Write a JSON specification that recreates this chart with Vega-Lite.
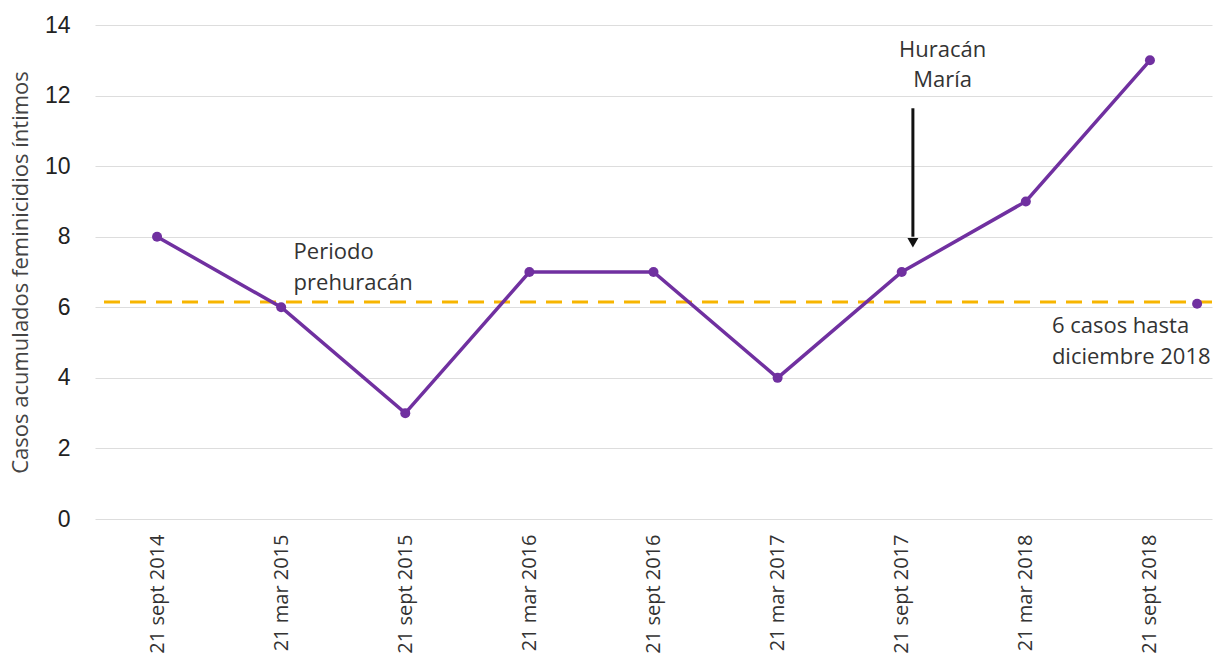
{
  "$schema": "https://vega.github.io/schema/vega-lite/v6.json",
  "autosize": "none",
  "width": 1117,
  "height": 494,
  "padding": {"left": 95, "top": 25, "right": 5, "bottom": 145},
  "background": "white",
  "config": {"view": {"stroke": null}},
  "datasets": {
    "series": [
      {"pos": 0, "fecha": "21 sept 2014", "casos": 8},
      {"pos": 1, "fecha": "21 mar 2015", "casos": 6},
      {"pos": 2, "fecha": "21 sept 2015", "casos": 3},
      {"pos": 3, "fecha": "21 mar 2016", "casos": 7},
      {"pos": 4, "fecha": "21 sept 2016", "casos": 7},
      {"pos": 5, "fecha": "21 mar 2017", "casos": 4},
      {"pos": 6, "fecha": "21 sept 2017", "casos": 7},
      {"pos": 7, "fecha": "21 mar 2018", "casos": 9},
      {"pos": 8, "fecha": "21 sept 2018", "casos": 13}
    ],
    "extra": [{"pos": 8.38, "casos": 6.1}],
    "ref": [{"y": 6.15}],
    "notes": [
      {"pos": 1.1, "casos": 7.56, "label": ["Periodo", "prehuracán"]},
      {"pos": 7.21, "casos": 5.48, "label": ["6 casos  hasta", "diciembre 2018"]}
    ],
    "notes2": [
      {"pos": 6.33, "casos": 13.29, "label": ["Huracán", "María"]}
    ],
    "arrow": [{"pos": 6.09, "y1": 11.64, "y2": 8.0}],
    "tip": [{"pos": 6.09, "casos": 7.83}]
  },
  "layer": [
    {
      "data": {"name": "ref"},
      "mark": {"type": "rule", "color": "#f7b500", "strokeWidth": 3, "strokeDash": [16, 10]},
      "encoding": {
        "y": {"field": "y", "type": "quantitative", "scale": {"domain": [0, 14]}}
      }
    },
    {
      "data": {"name": "series"},
      "mark": {"type": "line", "color": "#7030a0", "strokeWidth": 3.5, "point": {"filled": true, "size": 100, "color": "#7030a0"}},
      "encoding": {
        "x": {
          "field": "pos", "type": "quantitative",
          "scale": {"domain": [-0.5, 8.5], "nice": false, "zero": false},
          "axis": {
            "title": null, "values": [0, 1, 2, 3, 4, 5, 6, 7, 8],
            "labelExpr": "['21 sept 2014','21 mar 2015','21 sept 2015','21 mar 2016','21 sept 2016','21 mar 2017','21 sept 2017','21 mar 2018','21 sept 2018'][datum.value]",
            "labelAngle": -90, "labelAlign": "right", "labelBaseline": "middle",
            "labelFont": "Open Sans", "labelFontSize": 20, "labelColor": "#333333",
            "labelPadding": 15, "ticks": false, "domain": false, "grid": false
          }
        },
        "y": {
          "field": "casos", "type": "quantitative",
          "scale": {"domain": [0, 14], "nice": false},
          "axis": {
            "title": "Casos acumulados feminicidios íntimos",
            "titleFont": "Open Sans", "titleFontSize": 22, "titleFontWeight": "normal", "titleColor": "#444444",
            "titlePadding": 12,
            "values": [0, 2, 4, 6, 8, 10, 12, 14],
            "labelFont": "Liberation Sans", "labelFontSize": 23, "labelColor": "#222222",
            "labelPadding": 25, "ticks": false, "domain": false,
            "grid": true, "gridColor": "#dddddd", "gridWidth": 1
          }
        }
      }
    },
    {
      "data": {"name": "extra"},
      "mark": {"type": "point", "filled": true, "size": 100, "color": "#7030a0", "opacity": 1},
      "encoding": {
        "x": {"field": "pos", "type": "quantitative"},
        "y": {"field": "casos", "type": "quantitative"}
      }
    },
    {
      "data": {"name": "arrow"},
      "mark": {"type": "rule", "color": "#111111", "strokeWidth": 3},
      "encoding": {
        "x": {"field": "pos", "type": "quantitative"},
        "y": {"field": "y1", "type": "quantitative"},
        "y2": {"field": "y2"}
      }
    },
    {
      "data": {"name": "tip"},
      "mark": {"type": "point", "shape": "triangle-down", "filled": true, "size": 120, "color": "#111111", "opacity": 1},
      "encoding": {
        "x": {"field": "pos", "type": "quantitative"},
        "y": {"field": "casos", "type": "quantitative"}
      }
    },
    {
      "data": {"name": "notes"},
      "mark": {"type": "text", "align": "left", "baseline": "middle", "font": "Open Sans", "fontSize": 22, "color": "#333333", "lineHeight": 31},
      "encoding": {
        "x": {"field": "pos", "type": "quantitative"},
        "y": {"field": "casos", "type": "quantitative"},
        "text": {"field": "label"}
      }
    },
    {
      "data": {"name": "notes2"},
      "mark": {"type": "text", "align": "center", "baseline": "middle", "font": "Open Sans", "fontSize": 22, "color": "#333333", "lineHeight": 30},
      "encoding": {
        "x": {"field": "pos", "type": "quantitative"},
        "y": {"field": "casos", "type": "quantitative"},
        "text": {"field": "label"}
      }
    }
  ]
}
